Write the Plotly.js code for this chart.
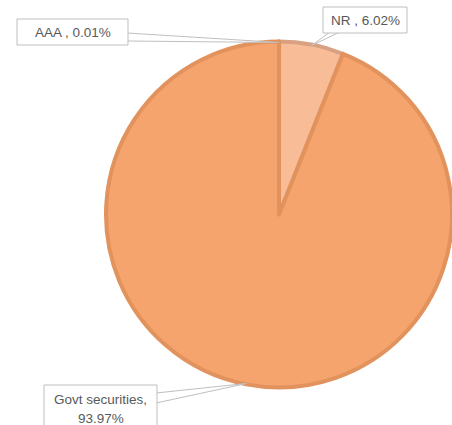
<!DOCTYPE html>
<html>
<head>
<meta charset="utf-8">
<script src="https://cdn.plot.ly/plotly-3.0.1.min.js"></script>
<style>html,body{margin:0;padding:0;background:#fff;}#chart{width:452px;height:425px;}</style>
</head>
<body>
<div id="chart"></div>
<script>
// Data (clockwise from 12 o'clock)
const categories = ["AAA", "NR", "Govt securities"];
const values = [0.01, 6.02, 93.97];
const labelLines = [["AAA , 0.01%"], ["NR , 6.02%"], ["Govt securities,", "93.97%"]];
const sliceColors = ["#F4A46C", "#F8BC96", "#F4A46C"];
const borderColors = ["#D9A182", "#D9A182", "#E2925C"];

const W = 452, H = 425;
const dom = {x: [106 / W, 1], y: [1 - 391 / H, 1 - 38 / H]};

// pie geometry in pixels (derived from domain)
const dw = (dom.x[1] - dom.x[0]) * W, dh = (dom.y[1] - dom.y[0]) * H;
const R = Math.min(dw, dh) / 2;
const CX = (dom.x[0] + dom.x[1]) / 2 * W;
const CY = H - (dom.y[0] + dom.y[1]) / 2 * H;

const total = values.reduce((a, b) => a + b, 0);
let cum = 0;
const anchors = values.map(v => {
  const th = 2 * Math.PI * (cum + v / 2) / total;
  cum += v;
  return [CX + (R - 1) * Math.sin(th), CY - (R - 1) * Math.cos(th)];
});

// callout boxes (pixel placement: left, top, right, bottom)
const boxes = [
  {x0: 17, y0: 19, x1: 128, y1: 45, base: "right", b0: 33, b1: 41, ty: [32]},
  {x0: 323, y0: 7, x1: 407, y1: 33, base: "bottom", b0: 330, b1: 340, ty: [20]},
  {x0: 44, y0: 385, x1: 157, y1: 440, base: "right", b0: 393, b1: 403, ty: [399, 418]}
];

const px = x => x / W, py = y => 1 - y / H;

const shapes = [], annotations = [];
boxes.forEach((b, i) => {
  const [ax, ay] = anchors[i];
  let p1, p2;
  if (b.base === "right") {
    p1 = [b.x1 - 1, b.b0];
    p2 = [b.x1 - 1, b.b1];
  } else {
    p1 = [b.b0, b.y1 - 1];
    p2 = [b.b1, b.y1 - 1];
  }
  shapes.push({
    type: "path", xref: "paper", yref: "paper", layer: "above",
    path: `M ${px(p1[0])} ${py(p1[1])} L ${px(ax)} ${py(ay)} L ${px(p2[0])} ${py(p2[1])} Z`,
    fillcolor: "#FFFFFF", line: {color: "#BFBFBF", width: 1}
  });
  shapes.push({
    type: "rect", xref: "paper", yref: "paper", layer: "above",
    x0: px(b.x0), x1: px(b.x1), y0: py(b.y1), y1: py(b.y0),
    fillcolor: "#FFFFFF", line: {color: "#BFBFBF", width: 1}
  });
  labelLines[i].forEach((t, j) => {
    annotations.push({
      xref: "paper", yref: "paper", x: px((b.x0 + b.x1) / 2), y: py(b.ty[j]),
      xanchor: "center", yanchor: "middle",
      text: t, showarrow: false,
      font: {family: "Liberation Sans, Arial, sans-serif", size: 13.5, color: "#595959"}
    });
  });
});

const trace = {
  type: "pie",
  labels: categories,
  values: values,
  sort: false,
  direction: "clockwise",
  rotation: 0,
  domain: dom,
  textinfo: "none",
  hoverinfo: "skip",
  showlegend: false,
  marker: {colors: sliceColors, line: {color: borderColors, width: 4}}
};

Plotly.newPlot("chart", [trace], {
  width: W, height: H,
  margin: {l: 0, r: 0, t: 0, b: 0},
  paper_bgcolor: "#FFFFFF",
  showlegend: false,
  shapes: shapes,
  annotations: annotations
}, {displayModeBar: false, staticPlot: true});
</script>
</body>
</html>
